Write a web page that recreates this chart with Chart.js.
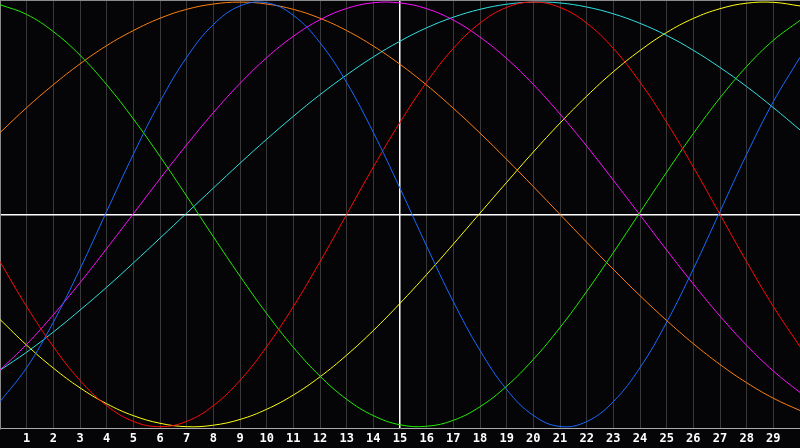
<!DOCTYPE html>
<html>
<head>
<meta charset="utf-8">
<script src="https://cdn.jsdelivr.net/npm/chart.js@4"></script>
<style>
  html, body { margin: 0; padding: 0; background: #050508; }
  canvas { display: block; }
</style>
</head>
<body>
<canvas id="chart" width="800" height="448"></canvas>
<script>
// days shown on the x axis (0 and 30 are the edges)
const days = [0,1,2,3,4,5,6,7,8,9,10,11,12,13,14,15,16,17,18,19,20,21,22,23,24,25,26,27,28,29,30]
const today = 15

// cycle values, one per day
const physical = [-0.882,-0.722,-0.508,-0.257,0.014,0.283,0.531,0.740,0.894,0.982,0.997,0.938,0.809,0.621,0.386,0.123,-0.150,-0.411,-0.641,-0.825,-0.947,-0.999,-0.976,-0.882,-0.722,-0.508,-0.257,0.014,0.283,0.531,0.740]
const emotional = [-0.223,-0.434,-0.623,-0.782,-0.901,-0.975,-1.000,-0.975,-0.901,-0.782,-0.623,-0.434,-0.223,0.000,0.223,0.434,0.623,0.782,0.901,0.975,1.000,0.975,0.901,0.782,0.623,0.434,0.223,0.000,-0.223,-0.434,-0.623]
const intellectual = [0.988,0.942,0.861,0.750,0.611,0.450,0.273,0.086,-0.105,-0.291,-0.467,-0.626,-0.762,-0.871,-0.948,-0.991,-0.998,-0.970,-0.906,-0.809,-0.683,-0.533,-0.363,-0.180,0.010,0.199,0.381,0.549,0.697,0.820,0.914]
const intuitive = [-0.733,-0.612,-0.473,-0.322,-0.161,0.003,0.168,0.328,0.479,0.617,0.738,0.839,0.917,0.970,0.997,0.996,0.969,0.915,0.835,0.734,0.612,0.473,0.322,0.161,-0.003,-0.168,-0.328,-0.479,-0.617,-0.738,-0.839]
const spiritual = [-0.734,-0.649,-0.554,-0.451,-0.343,-0.229,-0.112,0.006,0.124,0.241,0.354,0.462,0.564,0.657,0.742,0.816,0.879,0.929,0.966,0.990,1.000,0.996,0.977,0.945,0.900,0.843,0.773,0.692,0.602,0.503,0.398]
const awareness = [0.385,0.503,0.611,0.709,0.795,0.866,0.924,0.966,0.991,1.000,0.991,0.966,0.924,0.866,0.793,0.707,0.609,0.500,0.383,0.259,0.131,0.000,-0.131,-0.259,-0.383,-0.500,-0.609,-0.707,-0.793,-0.866,-0.924]
const aesthetic = [-0.495,-0.616,-0.724,-0.817,-0.892,-0.948,-0.984,-1.000,-0.993,-0.966,-0.918,-0.851,-0.765,-0.663,-0.547,-0.419,-0.283,-0.140,0.006,0.151,0.294,0.430,0.557,0.672,0.772,0.857,0.923,0.969,0.995,0.999,0.982]

function line(label, data, color) {
    return {
        label,
        data,
        borderColor: color,
        backgroundColor: color,
        borderWidth: 1,
        pointRadius: 0,
        pointHoverRadius: 0,
        tension: 0.4,
        fill: false
    }
}

// frame on top of the plot area
const framePlugin = {
    id: 'frame',
    afterDraw(chart) {
        const { ctx, chartArea } = chart
        ctx.save()
        ctx.strokeStyle = '#8a8a8a'
        ctx.lineWidth = 1
        ctx.beginPath()
        ctx.moveTo(chartArea.left, chartArea.top + 0.5)
        ctx.lineTo(chartArea.right, chartArea.top + 0.5)
        ctx.stroke()
        ctx.restore()
    }
}

const ctx = document.querySelector('#chart')
new Chart(ctx, {
    type: 'line',
    data: {
        labels: days,
        datasets: [
            line('Physical', physical, '#1a6aff'),
            line('Emotional', emotional, '#ff0a0a'),
            line('Intellectual', intellectual, '#22ee00'),
            line('Intuitive', intuitive, '#ff10ff'),
            line('Spiritual', spiritual, '#30e0e0'),
            line('Awareness', awareness, '#ff8010'),
            line('Aesthetic', aesthetic, '#ffff10')
        ]
    },
    plugins: [framePlugin],
    options: {
        responsive: false,
        animation: false,
        layout: { padding: 0, autoPadding: false },
        plugins: {
            legend: { display: false },
            tooltip: { enabled: false }
        },
        scales: {
            x: {
                type: 'category',
                offset: false,
                afterFit: (scale) => { scale.paddingLeft = 0; scale.paddingRight = 0 },
                border: { display: true, color: '#aaaaaa', width: 1 },
                grid: {
                    drawTicks: false,
                    color: (c) => {
                        if (c.index === today) return '#ffffff'
                        if (c.index === 0 || c.index === days.length - 1) return 'rgba(0,0,0,0)'
                        return '#383838'
                    },
                    lineWidth: (c) => c.index === today ? 1.5 : 1
                },
                ticks: {
                    autoSkip: false,
                    maxRotation: 0,
                    padding: 3,
                    color: '#ffffff',
                    font: { family: 'DejaVu Sans Mono', size: 12, weight: 'bold', lineHeight: 1.1 },
                    callback: function (value, index) {
                        if (index === 0 || index === days.length - 1) return ''
                        return this.getLabelForValue(value)
                    }
                }
            },
            y: {
                min: -1.01,
                max: 1.01,
                afterFit: (scale) => { scale.width = 0; scale.paddingTop = 0; scale.paddingBottom = 0 },
                border: { display: true, color: '#8a8a8a', width: 1 },
                grid: {
                    drawTicks: false,
                    color: (c) => c.tick && c.tick.value === 0 ? '#ffffff' : 'rgba(0,0,0,0)',
                    lineWidth: 1.5
                },
                ticks: { display: false, stepSize: 1, padding: 0 }
            }
        }
    }
})
</script>
</body>
</html>
